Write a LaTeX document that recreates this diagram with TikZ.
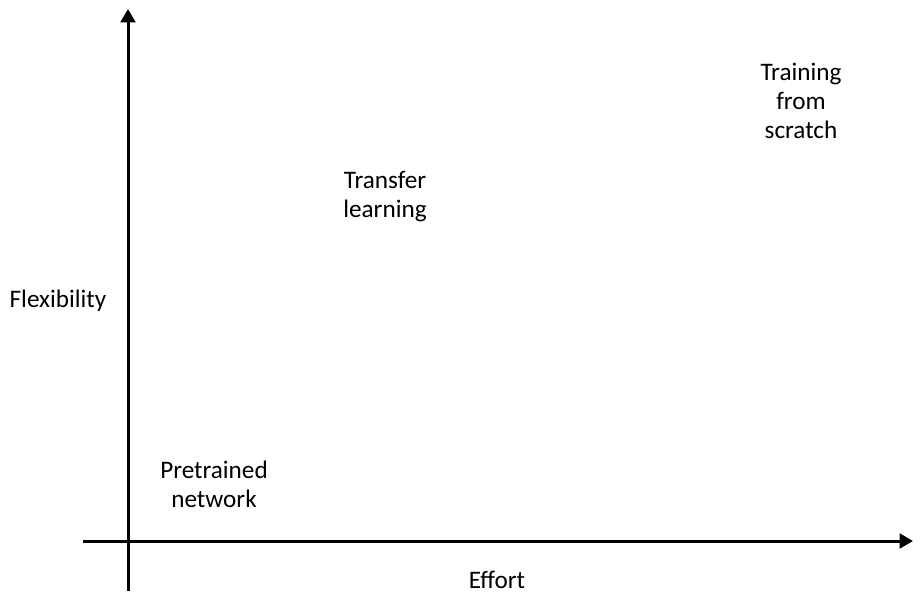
\documentclass[tikz,border=0pt]{standalone}
\usepackage{fontspec}
\setmainfont{Carlito}
\usetikzlibrary{arrows.meta}

\tikzset{
	axis/.style={line width=2.25pt, -{Triangle[length=10pt, width=11pt]}},
	lbl/.style={align=center, font=\fontsize{18.9}{21.75}\selectfont, inner sep=0pt}
}

\begin{document}
\begin{tikzpicture}[x=0.75pt, y=-0.75pt]
	\useasboundingbox (0,0) rectangle (920,604);
	\coordinate (xs) at (83,541);
	\coordinate (xe) at (913,541);
	\coordinate (ys) at (128,591);
	\coordinate (ye) at (128,9);
	\draw [axis] (xs) -- (xe);
	\draw [axis] (ys) -- (ye);
	\node [lbl] (flex) at (58,301) {Flexibility};
	\node [lbl] (effort) at (497,580) {Effort};
	\node [lbl] (pre) at (214,484) {Pretrained\\network};
	\node [lbl] (transfer) at (385,197) {Transfer\\learning};
	\node [lbl] (scratch) at (801,101) {Training\\from\\scratch};

\end{tikzpicture}
\end{document}
